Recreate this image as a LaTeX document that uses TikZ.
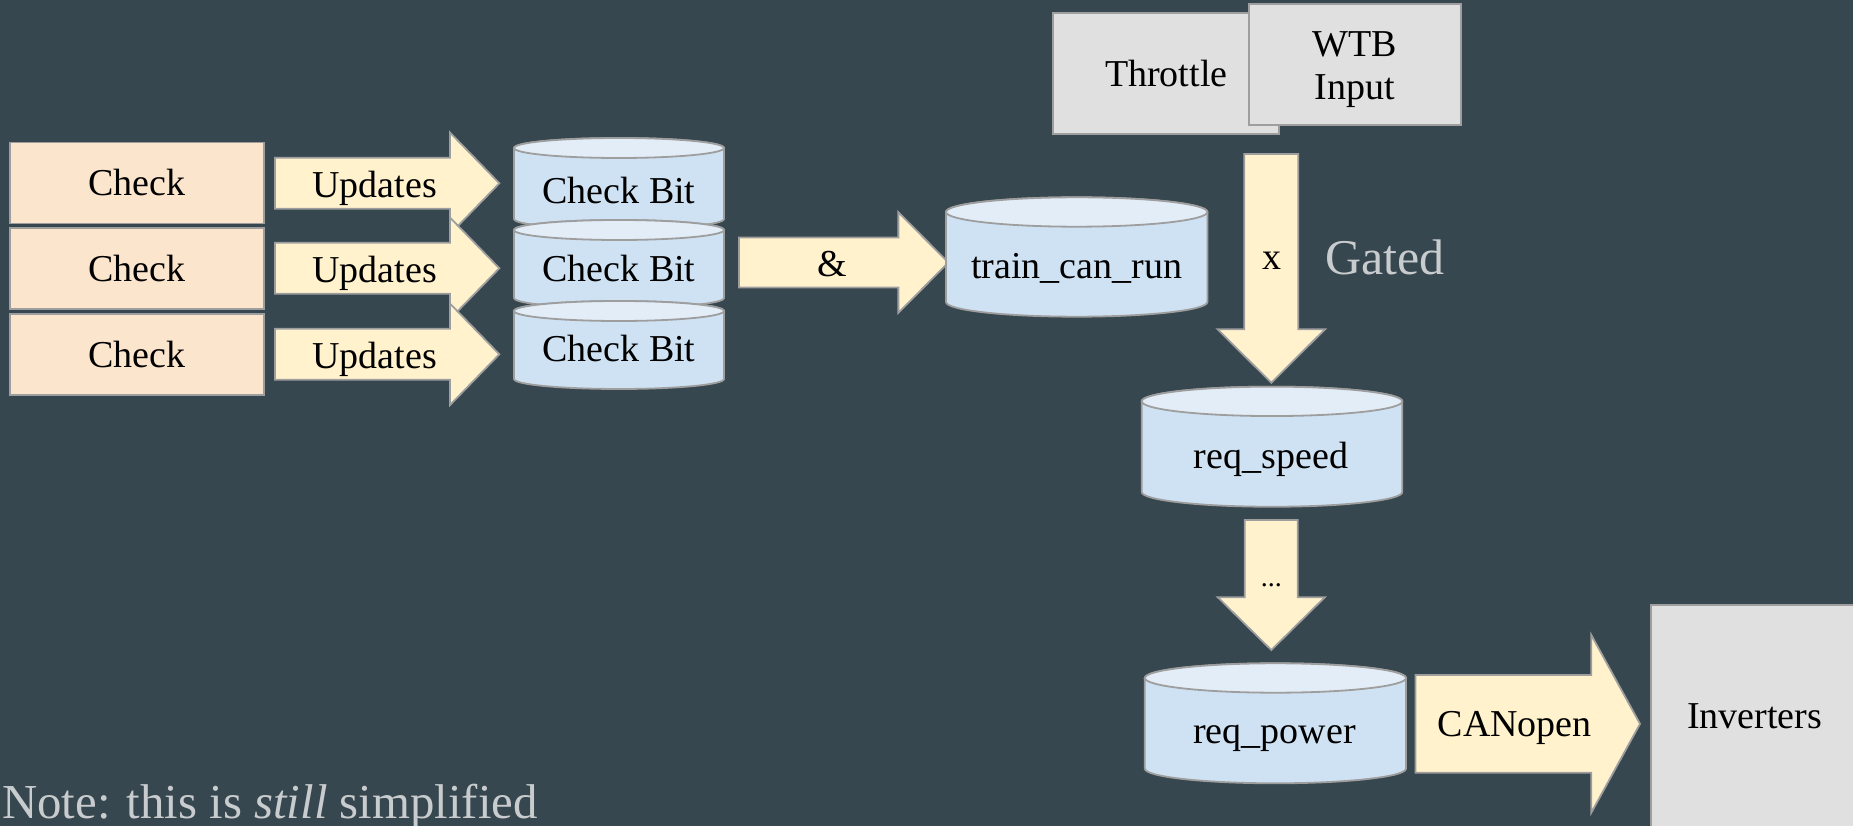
\documentclass[tikz,border=0pt]{standalone}
\usepackage{fontspec}
\setmainfont{Liberation Serif}

\definecolor{slate}{HTML}{37474F}
\definecolor{peach}{HTML}{FCE5CD}
\definecolor{cream}{HTML}{FFF2CC}
\definecolor{drumside}{HTML}{CFE2F3}
\definecolor{drumlid}{HTML}{E2EDF8}
\definecolor{panel}{HTML}{E0E0E0}
\definecolor{edge}{HTML}{9E9E9E}
\definecolor{pale}{HTML}{C9CCCE}

% block arrow pointing right, drawn inside the frame of node #1
% #2 = half width of the shaft, #3 = length of the head
\newcommand\rblock[3]{%
  \draw[blk] ([yshift=#2]#1.west) -- ([xshift=-#3,yshift=#2]#1.east)
    -- ([xshift=-#3]#1.north east) -- (#1.east) -- ([xshift=-#3]#1.south east)
    -- ([xshift=-#3,yshift=-#2]#1.east) -- ([yshift=-#2]#1.west) -- cycle;}
% block arrow pointing down, drawn inside the frame of node #1
\newcommand\dblock[3]{%
  \draw[blk] ([xshift=-#2]#1.north) -- ([xshift=#2]#1.north)
    -- ([xshift=#2,yshift=#3]#1.south) -- ([yshift=#3]#1.south east) -- (#1.south)
    -- ([yshift=#3]#1.south west) -- ([xshift=-#2,yshift=#3]#1.south) -- cycle;}
% storage drum; node #1 spans the body between the centres of its two ends
% #2 = x radius, #3 = y radius of the ends
\newcommand\drum[3]{%
  \draw[drumbody] (#1.north west) -- (#1.south west)
    arc[start angle=180,end angle=360,x radius=#2pt,y radius=#3pt]
    -- (#1.north east)
    arc[start angle=0,end angle=180,x radius=#2pt,y radius=#3pt] -- cycle;
  \draw[drumtop] (#1.north) ellipse[x radius=#2pt,y radius=#3pt];}

\begin{document}
\begin{tikzpicture}[x=1pt,y=-1pt,
  txt/.style={font=\fontsize{38}{43.3}\selectfont, text=black},
  box/.style={txt, draw=edge, line width=1.8pt, inner sep=0pt, align=center},
  hold/.style={inner sep=0pt, outer sep=0pt},
  blk/.style={fill=cream, draw=edge, line width=1.8pt, line join=miter},
  drumbody/.style={fill=drumside, draw=edge, line width=1.8pt},
  drumtop/.style={fill=drumlid, draw=edge, line width=1.8pt},
  lbl/.style={txt, inner sep=0pt, text height=26pt, text depth=0pt},
  note/.style={inner sep=0pt, text=pale, anchor=base west}]
\useasboundingbox (0,0) rectangle (1853,826);
\clip (0,0) rectangle (1853,826);
\fill[slate] (0,0) rectangle (1853,826);

% ---- checks feeding the check bits
\node[box, fill=peach, minimum width=254.5pt, minimum height=81pt] (chk1) at (137,183) {Check};
\node[box, fill=peach, minimum width=254.5pt, minimum height=81pt] (chk2) at (137,268.3) {Check};
\node[box, fill=peach, minimum width=254.5pt, minimum height=81pt] (chk3) at (137,354.5) {Check};

\node[hold, minimum width=224.3pt, minimum height=101.4pt] (upd1) at (387.2,183.3) {};
\node[hold, minimum width=224.3pt, minimum height=101.4pt] (upd2) at (387.2,268.3) {};
\node[hold, minimum width=224.3pt, minimum height=101.4pt] (upd3) at (387.2,354.3) {};
\rblock{upd1}{25.5}{49.3}
\rblock{upd2}{25.5}{49.3}
\rblock{upd3}{25.5}{49.3}
\node[lbl] (upd1-t) at ([xshift=-12.5pt,yshift=-1pt]upd1.center) {Updates};
\node[lbl] (upd2-t) at ([xshift=-12.5pt,yshift=-1pt]upd2.center) {Updates};
\node[lbl] (upd3-t) at ([xshift=-12.5pt,yshift=-1pt]upd3.center) {Updates};

% ---- stacked check bits
\node[hold, minimum width=210pt, minimum height=71pt] (cb1) at (619,183.5) {};
\node[hold, minimum width=210pt, minimum height=68pt] (cb2) at (619,264) {};
\node[hold, minimum width=210pt, minimum height=68pt] (cb3) at (619,345) {};
\drum{cb1}{105}{10}
\drum{cb2}{105}{10}
\drum{cb3}{105}{10}
\node[lbl] (cb1-t) at (619,190.3) {Check Bit};
\node[lbl] (cb2-t) at (619,268.7) {Check Bit};
\node[lbl] (cb3-t) at (619,348.7) {Check Bit};

% ---- and-gate into train_can_run
\node[hold, minimum width=209.3pt, minimum height=100.6pt] (and) at (843.7,262.5) {};
\rblock{and}{25}{50}
\node[lbl] (and-t) at ([xshift=-11pt,yshift=-1.2pt]and.center) {\&};

\node[hold, minimum width=261.4pt, minimum height=90pt] (tcr) at (1076.7,257) {};
\drum{tcr}{130.7}{14.7}
\node[lbl] (tcr-t) at (1076.7,265.3) {train\_can\_run};

% ---- driver inputs
\node[box, fill=panel, minimum width=226pt, minimum height=120.7pt] (thr) at (1166.3,73.7) {Throttle};
\node[box, fill=panel, minimum width=211.4pt, minimum height=121pt] (wtb) at (1355,64.5) {};
\node[txt, inner sep=0pt, align=center, anchor=base] (wtb-t) at (1355,100) {WTB\\Input};

% ---- gated path down to the speed request
\node[hold, minimum width=107.4pt, minimum height=228.7pt] (gate) at (1271.3,268.35) {};
\dblock{gate}{27}{53.4}
\node[txt, inner sep=0pt, anchor=base] (gate-t) at (1271.5,269.3) {x};
\node[note, font=\fontsize{50}{60}\selectfont] (gated) at (1325,275) {Gated};

\node[hold, minimum width=260.6pt, minimum height=90.7pt] (spd) at (1272,446.7) {};
\drum{spd}{130.3}{14.7}
\node[lbl] (spd-t) at (1271,455.3) {req\_speed};

\node[hold, minimum width=107pt, minimum height=130pt] (more) at (1271.3,585) {};
\dblock{more}{26.5}{52.7}
\node[inner sep=0pt, anchor=base, font=\fontsize{28}{32}\selectfont] (more-t) at (1271.3,586) {...};

\node[hold, minimum width=261.2pt, minimum height=90.6pt] (pwr) at (1275.4,723.3) {};
\drum{pwr}{130.6}{14.7}
\node[lbl] (pwr-t) at (1274.5,730.3) {req\_power};

% ---- bus out to the inverters
\node[hold, minimum width=224.5pt, minimum height=177.7pt] (can) at (1527.75,723.85) {};
\rblock{can}{48.85}{48.7}
\node[lbl] (can-t) at ([xshift=-13pt]can.center) {CANopen};

\node[box, fill=panel, minimum width=208pt, minimum height=222pt] (inv) at (1754.6,716) {Inverters};

% ---- footnote
\node[note, font=\fontsize{48.8}{58}\selectfont] (foot) at (2,818.3) {Note: this is \textit{still} simplified};
\end{tikzpicture}
\end{document}
